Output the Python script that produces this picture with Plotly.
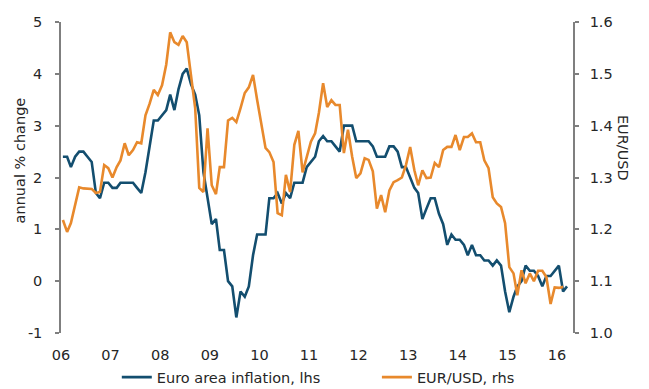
import pandas as pd
import plotly.graph_objects as go

# Euro area HICP inflation, annual % change (monthly, Jan 2006 - Mar 2016)
inflation = [
    2.4, 2.4, 2.2, 2.4, 2.5, 2.5, 2.4, 2.3, 1.7, 1.6, 1.9, 1.9,   # 2006
    1.8, 1.8, 1.9, 1.9, 1.9, 1.9, 1.8, 1.7, 2.1, 2.6, 3.1, 3.1,   # 2007
    3.2, 3.3, 3.6, 3.3, 3.7, 4.0, 4.1, 3.8, 3.6, 3.2, 2.1, 1.6,   # 2008
    1.1, 1.2, 0.6, 0.6, 0.0, -0.1, -0.7, -0.2, -0.3, -0.1, 0.5, 0.9,  # 2009
    0.9, 0.9, 1.6, 1.6, 1.7, 1.5, 1.7, 1.6, 1.9, 1.9, 1.9, 2.2,   # 2010
    2.3, 2.4, 2.7, 2.8, 2.7, 2.7, 2.6, 2.5, 3.0, 3.0, 3.0, 2.7,   # 2011
    2.7, 2.7, 2.7, 2.6, 2.4, 2.4, 2.4, 2.6, 2.6, 2.5, 2.2, 2.2,   # 2012
    2.0, 1.8, 1.7, 1.2, 1.4, 1.6, 1.6, 1.3, 1.1, 0.7, 0.9, 0.8,   # 2013
    0.8, 0.7, 0.5, 0.7, 0.5, 0.5, 0.4, 0.4, 0.3, 0.4, 0.3, -0.2,  # 2014
    -0.6, -0.3, -0.1, 0.0, 0.3, 0.2, 0.2, 0.1, -0.1, 0.1, 0.1, 0.2,  # 2015
    0.3, -0.2, -0.1,                                              # 2016
]

# EUR/USD (monthly, Jan 2006 - Feb 2016)
eurusd = [
    1.218, 1.195, 1.212, 1.250, 1.281, 1.279, 1.278, 1.278, 1.270, 1.272, 1.324, 1.318,  # 2006
    1.300, 1.320, 1.333, 1.366, 1.343, 1.353, 1.368, 1.366, 1.420, 1.442, 1.469, 1.459,  # 2007
    1.478, 1.518, 1.580, 1.561, 1.556, 1.573, 1.561, 1.495, 1.434, 1.280, 1.272, 1.395,  # 2008
    1.285, 1.268, 1.320, 1.320, 1.410, 1.415, 1.407, 1.434, 1.463, 1.474, 1.498, 1.450,  # 2009
    1.400, 1.357, 1.349, 1.330, 1.231, 1.227, 1.305, 1.272, 1.363, 1.390, 1.310, 1.340,  # 2010
    1.369, 1.385, 1.425, 1.482, 1.436, 1.449, 1.440, 1.440, 1.347, 1.392, 1.340, 1.299,  # 2011
    1.308, 1.337, 1.334, 1.312, 1.240, 1.266, 1.233, 1.275, 1.291, 1.295, 1.300, 1.324,  # 2012
    1.359, 1.314, 1.285, 1.314, 1.299, 1.300, 1.328, 1.320, 1.353, 1.359, 1.359, 1.382,  # 2013
    1.353, 1.378, 1.378, 1.385, 1.368, 1.368, 1.333, 1.318, 1.262, 1.250, 1.243, 1.212,  # 2014
    1.127, 1.115, 1.073, 1.121, 1.096, 1.115, 1.100, 1.120, 1.120, 1.108, 1.056, 1.088,  # 2015
    1.087, 1.089,                                                                        # 2016
]

year_ticks = ["2006", "2007", "2008", "2009", "2010", "2011", "2012", "2013", "2014", "2015", "2016"]
year_labels = ["06", "07", "08", "09", "10", "11", "12", "13", "14", "15", "16"]
left_ticks = [-1, 0, 1, 2, 3, 4, 5]
left_labels = ["-1", "0", "1", "2", "3", "4", "5"]
right_ticks = [1.0, 1.1, 1.2, 1.3, 1.4, 1.5, 1.6]

dates_infl = pd.date_range("2006-01-01", periods=len(inflation), freq="MS") + pd.Timedelta(days=14)
dates_fx = pd.date_range("2006-01-01", periods=len(eurusd), freq="MS") + pd.Timedelta(days=14)
tick_dates = [f"{y}-01-01" for y in year_ticks]

BLUE = "#134E6F"
ORANGE = "#E8892C"
AXIS = "#7F7F7F"
TXT = "#262626"
FONT = "DejaVu Sans"
FS = 14.5
XRANGE = ["2006-01-01", "2016-04-28"]

fig = go.Figure()
fig.add_trace(go.Scatter(x=dates_infl, y=inflation, mode="lines", name="Euro area inflation, lhs",
                         line=dict(color=BLUE, width=2.6), yaxis="y", legend="legend"))
fig.add_trace(go.Scatter(x=dates_fx, y=eurusd, mode="lines", name="EUR/USD, rhs",
                         line=dict(color=ORANGE, width=2.6), yaxis="y2", legend="legend2"))

leg_common = dict(orientation="h", xanchor="left", yanchor="middle", y=-0.142,
                  font=dict(size=FS, color=TXT), bgcolor="rgba(0,0,0,0)")

# The page body adds an 8 px offset, so the figure is 8 px smaller with margins shifted.
fig.update_layout(
    width=641, height=381,
    margin=dict(l=53, r=76, t=14, b=56, autoexpand=False),
    paper_bgcolor="white", plot_bgcolor="white",
    font=dict(family=FONT, size=FS, color=TXT),
    showlegend=True,
    legend=dict(x=0.109, **leg_common),
    legend2=dict(x=0.617, **leg_common),
    xaxis=dict(type="date", range=XRANGE, tickvals=tick_dates, ticktext=year_labels,
               showline=False, ticks="", showgrid=False, zeroline=False,
               ticklabelstandoff=11, tickfont=dict(size=FS, color=TXT)),
    xaxis2=dict(type="date", range=XRANGE, overlaying="x", anchor="free", position=1/6,
                tickvals=tick_dates, showticklabels=False, showline=True, linecolor=AXIS,
                linewidth=1.5, ticks="outside", ticklen=4, tickwidth=1.5, tickcolor=AXIS,
                showgrid=False, zeroline=False),
    yaxis=dict(range=[-1, 5], tickvals=left_ticks, ticktext=left_labels, showline=True,
               linecolor=AXIS, linewidth=1.5, ticks="outside", ticklen=4, tickwidth=1.5,
               tickcolor=AXIS, showgrid=False, zeroline=False, ticklabelstandoff=10,
               tickfont=dict(size=FS, color=TXT)),
    yaxis2=dict(range=[1.0, 1.6], tickvals=right_ticks, tickformat=".1f", overlaying="y",
                side="right", showline=True, linecolor=AXIS, linewidth=1.5, ticks="outside",
                ticklen=4, tickwidth=1.5, tickcolor=AXIS, showgrid=False, zeroline=False,
                ticklabelstandoff=8, tickfont=dict(size=FS, color=TXT)),
    annotations=[
        dict(text="annual % change", xref="paper", yref="paper", x=-0.08, y=0.555,
             xanchor="center", yanchor="middle", textangle=-90, showarrow=False,
             font=dict(size=FS, color=TXT)),
        dict(text="EUR/USD", xref="paper", yref="paper", x=1.0977, y=0.595, xanchor="center",
             yanchor="middle", textangle=90, showarrow=False, font=dict(size=FS, color=TXT)),
    ],
)

fig.write_html("out.html")
